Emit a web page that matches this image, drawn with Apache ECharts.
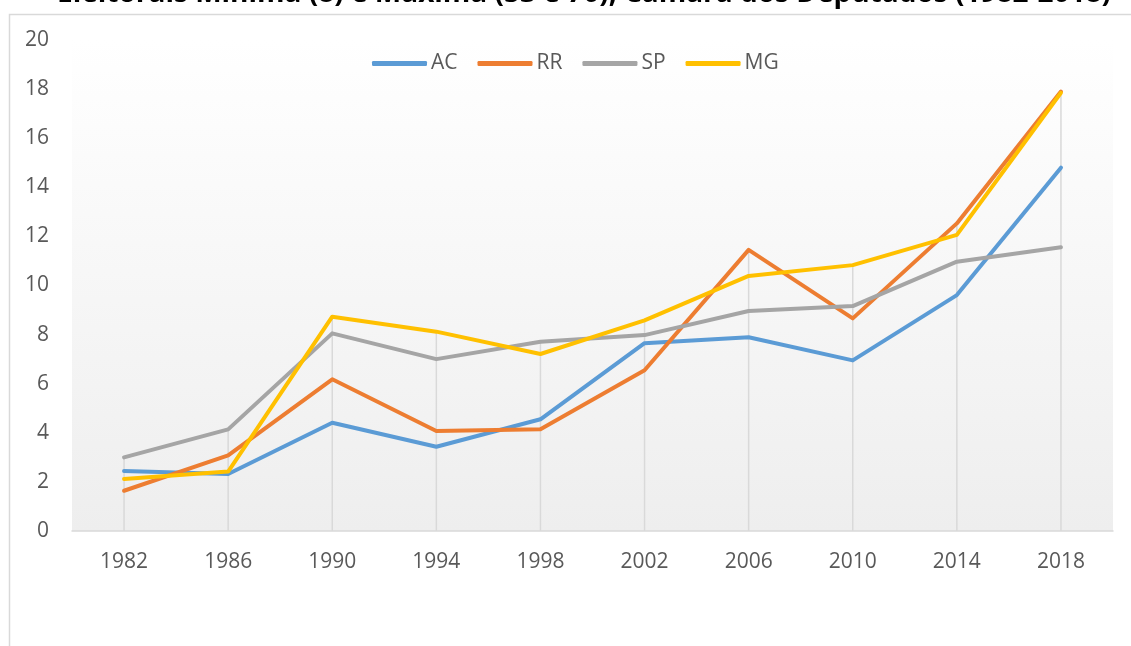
<!DOCTYPE html>
<html>
<head>
<meta charset="utf-8">
<script src="https://cdn.jsdelivr.net/npm/echarts@6/dist/echarts.min.js"></script>
<style>html,body{margin:0;padding:0;background:#fff}#c{width:1131px;height:646px}</style>
</head>
<body>
<div id="c"></div>
<script>
const titleText = 'Eleitorais Mínima (8) e Máxima (53 e 70), Câmara dos Deputados (1982-2018)';
const categories = ['1982','1986','1990','1994','1998','2002','2006','2010','2014','2018'];
const seriesNames = ['AC','RR','SP','MG'];
const AC = [2.44, 2.32, 4.41, 3.43, 4.55, 7.65, 7.89, 6.95, 9.61, 14.8];
const RR = [1.64, 3.08, 6.18, 4.07, 4.14, 6.55, 11.45, 8.66, 12.53, 17.9];
const SP = [3.0, 4.14, 8.05, 7.0, 7.71, 7.98, 8.96, 9.16, 10.97, 11.56];
const MG = [2.12, 2.42, 8.73, 8.12, 7.21, 8.58, 10.39, 10.83, 12.06, 17.85];
const colors = ['#5b9bd5','#ed7d31','#a5a5a5','#ffc000'];
const yTicks = [0,2,4,6,8,10,12,14,16,18,20];

const allSeries = [AC, RR, SP, MG];
const dropData = categories.map((c, i) => [i, Math.max(...allSeries.map(s => s[i]))]);

const font = "'Open Sans', sans-serif";
const chart = echarts.init(document.getElementById('c'));
chart.setOption({
  animation: false,
  backgroundColor: '#fff',
  color: colors,
  graphic: [{
    type: 'rect', left: 7, top: 12, z: -10,
    shape: { x: 0, y: 0, width: 1200, height: 700 },
    style: { fill: 'none', stroke: '#d9d9d9', lineWidth: 1.5 }
  }],
  title: {
    text: titleText, left: 52, top: -25,
    textStyle: { fontFamily: font, fontWeight: 'bold', fontSize: 28, color: '#000' }
  },
  legend: {
    data: seriesNames, left: 367, top: 48,
    icon: 'roundRect', itemWidth: 55, itemHeight: 5, itemGap: 20,
    textStyle: { fontFamily: font, fontSize: 21, color: '#595959', padding: [0,0,0,-1] }
  },
  grid: {
    left: 72, right: 18, top: 40, bottom: 115, show: true, borderWidth: 0,
    backgroundColor: { type: 'linear', x: 0, y: 0, x2: 0, y2: 1,
      colorStops: [{ offset: 0, color: '#ffffff' }, { offset: 1, color: '#eeeeee' }] }
  },
  xAxis: {
    type: 'category', data: categories, boundaryGap: true,
    axisLine: { lineStyle: { color: '#d9d9d9', width: 1.5 } },
    axisTick: { show: false },
    axisLabel: { fontFamily: font, fontSize: 21, color: '#595959', margin: 21 },
    splitLine: { show: false }
  },
  yAxis: {
    type: 'value', min: yTicks[0], max: yTicks[yTicks.length-1], interval: 2,
    axisLine: { show: false }, axisTick: { show: false },
    axisLabel: { fontFamily: font, fontSize: 21, color: '#595959', margin: 23 },
    splitLine: { show: false }
  },
  series: [
    {
      type: 'custom', name: '_drop', silent: true, z: 1,
      data: dropData,
      renderItem: function (params, api) {
        const p0 = api.coord([api.value(0), 0]);
        const p1 = api.coord([api.value(0), api.value(1)]);
        return { type: 'line', shape: { x1: p0[0], y1: p0[1], x2: p1[0], y2: p1[1] },
          style: { stroke: '#d9d9d9', lineWidth: 1.5 } };
      }
    },
    ...seriesNames.map((n, i) => ({
      type: 'line', name: n, data: allSeries[i], symbol: 'none', z: 2 + i,
      lineStyle: { color: colors[i], width: 4, cap: 'round', join: 'round' },
      itemStyle: { color: colors[i] }
    }))
  ]
});
</script>
</body>
</html>
